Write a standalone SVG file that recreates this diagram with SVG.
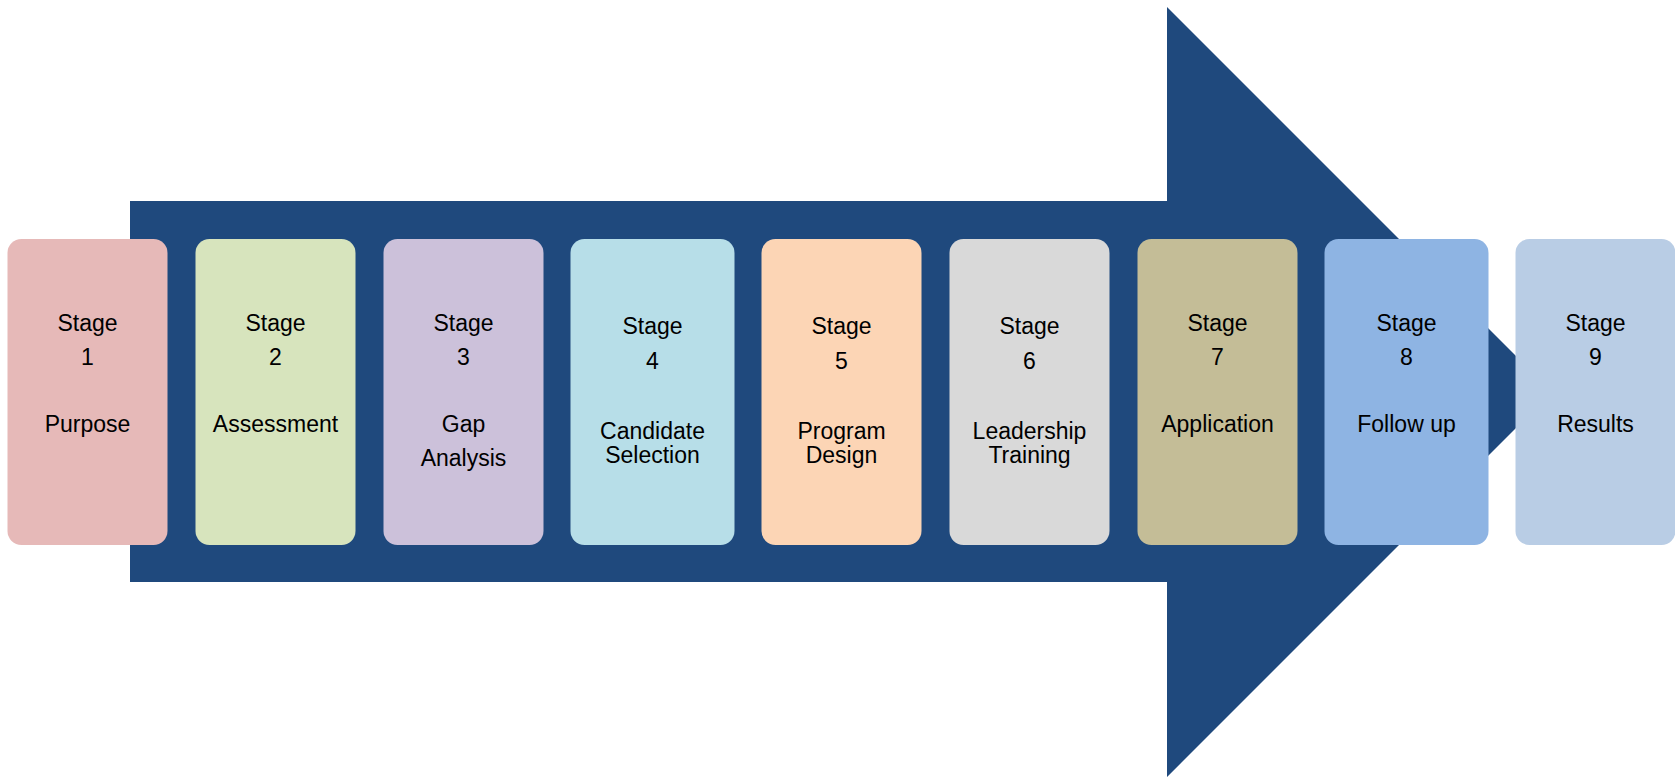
<svg xmlns="http://www.w3.org/2000/svg" width="1675" height="777" viewBox="0 0 1675 777">
<style>
.box{stroke:none}
text{font-family:"Liberation Sans",Arial,sans-serif;font-size:23px;fill:#000;text-anchor:middle}
</style>
<rect x="0" y="0" width="1675" height="777" fill="#ffffff"/>
<g id="connectors">
<path id="arrow" d="M130 201 H1167 V7 L1552 392 L1167 777 V582 H130 Z" fill="#1F497D"/>
</g>
<g id="stage1"><rect class="box" x="7.5" y="239" width="160" height="306" rx="14" fill="#E6B9B8"/><text x="87.5" y="331">Stage</text><text x="87.5" y="365">1</text><text x="87.5" y="432">Purpose</text></g>
<g id="stage2"><rect class="box" x="195.5" y="239" width="160" height="306" rx="14" fill="#D7E4BD"/><text x="275.5" y="331">Stage</text><text x="275.5" y="365">2</text><text x="275.5" y="432">Assessment</text></g>
<g id="stage3"><rect class="box" x="383.5" y="239" width="160" height="306" rx="14" fill="#CCC1DA"/><text x="463.5" y="331">Stage</text><text x="463.5" y="365">3</text><text x="463.5" y="432">Gap</text><text x="463.5" y="466">Analysis</text></g>
<g id="stage4"><rect class="box" x="570.5" y="239" width="164" height="306" rx="14" fill="#B7DEE8"/><text x="652.5" y="334">Stage</text><text x="652.5" y="369">4</text><text x="652.5" y="439">Candidate</text><text x="652.5" y="463">Selection</text></g>
<g id="stage5"><rect class="box" x="761.5" y="239" width="160" height="306" rx="14" fill="#FCD5B5"/><text x="841.5" y="334">Stage</text><text x="841.5" y="369">5</text><text x="841.5" y="439">Program</text><text x="841.5" y="463">Design</text></g>
<g id="stage6"><rect class="box" x="949.5" y="239" width="160" height="306" rx="14" fill="#D9D9D9"/><text x="1029.5" y="334">Stage</text><text x="1029.5" y="369">6</text><text x="1029.5" y="439">Leadership</text><text x="1029.5" y="463">Training</text></g>
<g id="stage7"><rect class="box" x="1137.5" y="239" width="160" height="306" rx="14" fill="#C4BD97"/><text x="1217.5" y="331">Stage</text><text x="1217.5" y="365">7</text><text x="1217.5" y="432">Application</text></g>
<g id="stage8"><rect class="box" x="1324.5" y="239" width="164" height="306" rx="14" fill="#8EB4E3"/><text x="1406.5" y="331">Stage</text><text x="1406.5" y="365">8</text><text x="1406.5" y="432">Follow up</text></g>
<g id="stage9"><rect class="box" x="1515.5" y="239" width="160" height="306" rx="14" fill="#B9CDE5"/><text x="1595.5" y="331">Stage</text><text x="1595.5" y="365">9</text><text x="1595.5" y="432">Results</text></g>
</svg>
